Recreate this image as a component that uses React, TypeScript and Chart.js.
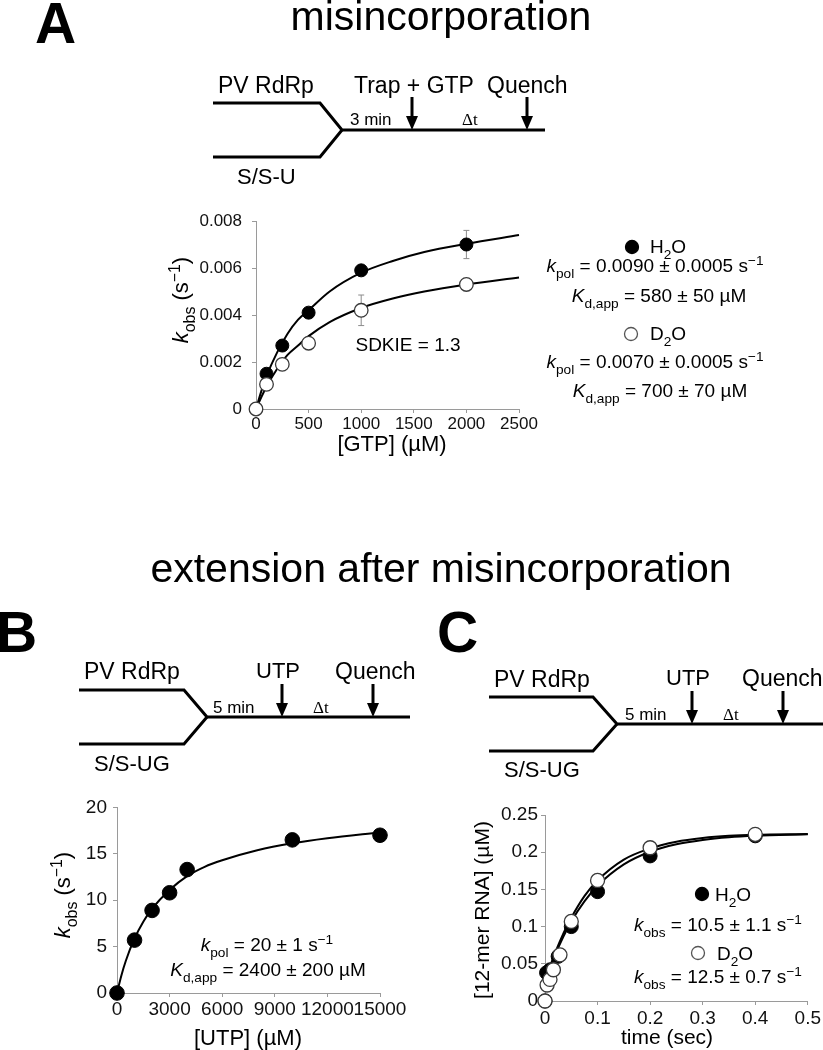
import React, { useEffect, useRef } from 'react';
import { Chart, registerables } from 'chart.js';
Chart.register(...registerables);

const FONT = '"Liberation Sans", Arial, Helvetica, sans-serif';
const SERIF = '"Liberation Serif", "Times New Roman", serif';

// ---------- Panel A: misincorporation ----------
const gtpConc = [0, 100, 250, 500, 1000, 2000];
const kobsH2O_A = [0, 0.0015, 0.0027, 0.0041, 0.0059, 0.0070];
const kobsD2O_A = [0, 0.00105, 0.0019, 0.0028, 0.0042, 0.0053];
const errH2O_A = [0, 0, 0, 0, 0, 0.0006];
const errD2O_A = [0, 0, 0, 0, 0.00065, 0];
const fitGtp = [0, 50, 100, 200, 300, 400, 500, 700, 1000, 1300, 1600, 2000, 2500];
const fitH2O_A = [0, 0.00075, 0.0014, 0.0024, 0.0032, 0.0038, 0.0042, 0.005, 0.0058, 0.0063, 0.00668, 0.00703, 0.0074];
const fitD2O_A = [0, 0.0005, 0.00095, 0.0017, 0.0023, 0.0027, 0.0031, 0.0037, 0.0043, 0.0047, 0.005, 0.0053, 0.0056];
const gtpTicks = [0, 500, 1000, 1500, 2000, 2500];
const gtpTickLabels = ['0', '500', '1000', '1500', '2000', '2500'];
const kobsATicks = [0, 0.002, 0.004, 0.006, 0.008];
const kobsATickLabels = ['0', '0.002', '0.004', '0.006', '0.008'];

// ---------- Panel B: extension, UTP dependence ----------
const utpConc = [0, 1000, 2000, 3000, 4000, 10000, 15000];
const kobsB = [0, 5.7, 8.9, 10.8, 13.3, 16.5, 17.0];
const fitUtp = [0, 250, 500, 1000, 1500, 2000, 3000, 4000, 5000, 6000, 8000, 10000, 12000, 15000];
const fitB = [0, 1.89, 3.45, 5.88, 7.69, 9.09, 11.11, 12.6, 13.6, 14.3, 15.38, 16.13, 16.67, 17.3];
const utpTicks = [0, 3000, 6000, 9000, 12000, 15000];
const utpTickLabels = ['0', '3000', '6000', '9000', '12000', '15000'];
const kobsBTicks = [0, 5, 10, 15, 20];
const kobsBTickLabels = ['0', '5', '10', '15', '20'];

// ---------- Panel C: extension time course ----------
const timeH2O = [0, 0.003, 0.01, 0.025, 0.05, 0.1, 0.2, 0.4];
const rnaH2O = [0, 0.038, 0.042, 0.06, 0.1, 0.147, 0.195, 0.222];
const timeD2O = [0, 0.004, 0.0095, 0.016, 0.0285, 0.05, 0.1, 0.2, 0.4];
const rnaD2O = [0, 0.0215, 0.029, 0.042, 0.062, 0.107, 0.162, 0.206, 0.224];
const fitTime = [0, 0.01, 0.02, 0.035, 0.05, 0.075, 0.1, 0.15, 0.2, 0.25, 0.3, 0.35, 0.4, 0.5];
const fitH2O_C = [0.025, 0.045, 0.063, 0.0865, 0.107, 0.134, 0.155, 0.1836, 0.2006, 0.2106, 0.2164, 0.22, 0.222, 0.224];
const fitD2O_C = [0.025, 0.047, 0.066, 0.091, 0.112, 0.141, 0.162, 0.19, 0.205, 0.214, 0.219, 0.222, 0.2235, 0.2245];
const timeTicks = [0, 0.1, 0.2, 0.3, 0.4, 0.5];
const timeTickLabels = ['0', '0.1', '0.2', '0.3', '0.4', '0.5'];
const rnaTicks = [0, 0.05, 0.1, 0.15, 0.2, 0.25];
const rnaTickLabels = ['0', '0.05', '0.1', '0.15', '0.2', '0.25'];

const pts = (xs: number[], ys: number[]) => xs.map((x, i) => ({ x, y: ys[i] }));

const errorBarPlugin = {
  id: 'errorBars',
  beforeDatasetsDraw(chart: any) {
    const ctx = chart.ctx;
    const xs = chart.scales.x;
    const ys = chart.scales.y;
    chart.data.datasets.forEach((ds: any) => {
      const errs: number[] | undefined = ds.errors;
      if (!errs) return;
      ctx.save();
      ctx.strokeStyle = '#8c8c8c';
      ctx.lineWidth = 1;
      ds.data.forEach((p: any, i: number) => {
        const e = errs[i];
        if (!e) return;
        const px = xs.getPixelForValue(p.x);
        const y1 = ys.getPixelForValue(p.y + e);
        const y2 = ys.getPixelForValue(p.y - e);
        ctx.beginPath();
        ctx.moveTo(px, y1); ctx.lineTo(px, y2);
        ctx.moveTo(px - 3, y1); ctx.lineTo(px + 3, y1);
        ctx.moveTo(px - 3, y2); ctx.lineTo(px + 3, y2);
        ctx.stroke();
      });
      ctx.restore();
    });
  },
};

const filled = (data: any[], r: number, extra: any = {}) => ({
  data, showLine: false, pointRadius: r, pointBackgroundColor: '#000', pointBorderColor: '#000',
  pointBorderWidth: 1, clip: false, order: 2, ...extra,
});
const open = (data: any[], r: number, extra: any = {}) => ({
  data, showLine: false, pointRadius: r, pointBackgroundColor: '#fff', pointBorderColor: '#3a3a3a',
  pointBorderWidth: 1.3, clip: false, order: 1, ...extra,
});
const curve = (data: any[]) => ({
  data, showLine: true, pointRadius: 0, borderColor: '#000', borderWidth: 2,
  cubicInterpolationMode: 'monotone', fill: false, clip: false, order: 3,
});

function axis(o: {
  min: number; max: number; ticks: number[]; labels: string[]; size: number;
  fontSize: number; padding: number; horizontal: boolean;
}) {
  return {
    type: 'linear',
    min: o.min,
    max: o.max,
    afterFit: (s: any) => { if (o.horizontal) s.height = o.size; else s.width = o.size; },
    afterBuildTicks: (s: any) => { s.ticks = o.ticks.map((v) => ({ value: v })); },
    ticks: {
      autoSkip: false, maxRotation: 0, minRotation: 0,
      callback: (_v: any, i: number) => o.labels[i],
      font: { family: FONT, size: o.fontSize }, color: '#111', padding: o.padding,
    },
    grid: { drawOnChartArea: false, drawTicks: true, tickLength: 4, color: '#9a9a9a', lineWidth: 1 },
    border: { display: true, color: '#9a9a9a', width: 1 },
  };
}

function baseOptions(padding: any, x: any, y: any) {
  return {
    responsive: false, animation: false, events: [],
    layout: { padding },
    plugins: { legend: { display: false }, tooltip: { enabled: false }, title: { display: false } },
    scales: { x, y },
  };
}

const configA = () => ({
  type: 'scatter',
  data: {
    datasets: [
      open(pts(gtpConc, kobsD2O_A), 6.8, { errors: errD2O_A }),
      filled(pts(gtpConc, kobsH2O_A), 6.5, { errors: errH2O_A }),
      curve(pts(fitGtp, fitH2O_A)),
      curve(pts(fitGtp, fitD2O_A)),
    ],
  },
  options: baseOptions(
    { top: 21, right: 31, left: 0, bottom: 0 },
    axis({ min: 0, max: 2500, ticks: gtpTicks, labels: gtpTickLabels, size: 31, fontSize: 17, padding: 1, horizontal: true }),
    axis({ min: 0, max: 0.008, ticks: kobsATicks, labels: kobsATickLabels, size: 66, fontSize: 17, padding: 10, horizontal: false }),
  ),
  plugins: [errorBarPlugin],
});

const configB = () => ({
  type: 'scatter',
  data: {
    datasets: [
      filled(pts(utpConc, kobsB), 7.3),
      curve(pts(fitUtp, fitB)),
    ],
  },
  options: baseOptions(
    { top: 17, right: 30, left: 0, bottom: 0 },
    axis({ min: 0, max: 15000, ticks: utpTicks, labels: utpTickLabels, size: 37, fontSize: 19, padding: 1, horizontal: true }),
    axis({ min: 0, max: 20, ticks: kobsBTicks, labels: kobsBTickLabels, size: 37, fontSize: 19, padding: 6, horizontal: false }),
  ),
  plugins: [],
});

const configC = () => ({
  type: 'scatter',
  data: {
    datasets: [
      open(pts(timeD2O, rnaD2O), 7),
      filled(pts(timeH2O, rnaH2O), 7),
      curve(pts(fitTime, fitH2O_C)),
      curve(pts(fitTime, fitD2O_C)),
    ],
  },
  options: baseOptions(
    { top: 20, right: 15, left: 0, bottom: 0 },
    axis({ min: 0, max: 0.5, ticks: timeTicks, labels: timeTickLabels, size: 29, fontSize: 19, padding: 2, horizontal: true }),
    axis({ min: 0, max: 0.25, ticks: rnaTicks, labels: rnaTickLabels, size: 50, fontSize: 19, padding: 3, horizontal: false }),
  ),
  plugins: [],
});

function Plot({ left, top, width, height, make }: { left: number; top: number; width: number; height: number; make: () => any }) {
  const ref = useRef<HTMLCanvasElement | null>(null);
  useEffect(() => {
    if (!ref.current) return;
    const chart = new Chart(ref.current, make());
    return () => chart.destroy();
  }, []);
  return (
    <canvas
      ref={ref}
      width={width}
      height={height}
      style={{ position: 'absolute', left, top, width, height }}
    />
  );
}

type Kind = 'n' | 'i' | 'sub' | 'sup';
type Part = [string, Kind?];

function Rich({ x, y, size, parts, anchor = 'start', rotate = false, family = FONT, weight }: {
  x: number; y: number; size: number; parts: Part[]; anchor?: string; rotate?: boolean; family?: string; weight?: string;
}) {
  let cur = 0;
  const spans = parts.map(([t, k = 'n'], i) => {
    const target = k === 'sub' ? size * 0.3 : k === 'sup' ? -size * 0.38 : 0;
    const dy = target - cur;
    cur = target;
    return (
      <tspan key={i} dy={dy} fontStyle={k === 'i' ? 'italic' : undefined}
        fontSize={k === 'sub' || k === 'sup' ? size * 0.72 : size}>{t}</tspan>
    );
  });
  return (
    <text x={x} y={y} fontSize={size} textAnchor={anchor as any} fontFamily={family} fontWeight={weight}
      style={{ whiteSpace: 'pre' }} transform={rotate ? `rotate(-90 ${x} ${y})` : undefined}>{spans}</text>
  );
}

function Scheme({ lx, rx, vx, vy, gap, endX, arrows }: { lx: number; rx: number; vx: number; vy: number; gap: number; endX: number; arrows: number[] }) {
  return (
    <g stroke="#000" strokeWidth={3} fill="none">
      <polyline points={`${lx},${vy - gap} ${rx},${vy - gap} ${vx},${vy} ${endX},${vy}`} />
      <polyline points={`${lx},${vy + gap} ${rx},${vy + gap} ${vx},${vy}`} />
      {arrows.map((ax) => (
        <g key={ax}>
          <line x1={ax} y1={vy - 33} x2={ax} y2={vy - 12} />
          <polygon points={`${ax - 6},${vy - 14} ${ax + 6},${vy - 14} ${ax},${vy}`} fill="#000" stroke="none" />
        </g>
      ))}
    </g>
  );
}

function Circle({ cx, cy, r, filledIn }: { cx: number; cy: number; r: number; filledIn: boolean }) {
  return <circle cx={cx} cy={cy} r={r} fill={filledIn ? '#000' : '#fff'} stroke={filledIn ? '#000' : '#555'} strokeWidth={1.3} />;
}

export default function App() {
  return (
    <div style={{ position: 'absolute', left: 0, top: 0, width: 823, height: 1050, background: '#fff', overflow: 'hidden' }}>
      <Plot left={190} top={200} width={360} height={240} make={configA} />
      <Plot left={80} top={790} width={330} height={240} make={configB} />
      <Plot left={495} top={795} width={328} height={235} make={configC} />
      <svg width={823} height={1050} style={{ position: 'absolute', left: 0, top: 0, pointerEvents: 'none' }}>
        {/* Panel letters and titles */}
        <Rich x={35} y={43} size={57} weight="bold" parts={[['A']]} />
        <Rich x={-4} y={652} size={57} weight="bold" parts={[['B']]} />
        <Rich x={437} y={652} size={57} weight="bold" parts={[['C']]} />
        <Rich x={441} y={30} size={41} anchor="middle" parts={[['misincorporation']]} />
        <Rich x={441} y={582} size={41} anchor="middle" parts={[['extension after misincorporation']]} />

        {/* Scheme A */}
        <Scheme lx={213} rx={320} vx={342} vy={130} gap={27} endX={545} arrows={[412, 527]} />
        <Rich x={218} y={93} size={23} parts={[['PV RdRp']]} />
        <Rich x={354} y={93} size={23} parts={[['Trap + GTP']]} />
        <Rich x={487} y={93} size={23} parts={[['Quench']]} />
        <Rich x={350} y={125} size={17} parts={[['3 min']]} />
        <Rich x={462} y={125} size={17} family={SERIF} parts={[['Δt']]} />
        <Rich x={237} y={184} size={22} parts={[['S/S-U']]} />

        {/* Scheme B */}
        <Scheme lx={79} rx={184} vx={207} vy={717} gap={27} endX={410} arrows={[282, 373]} />
        <Rich x={84} y={679} size={23} parts={[['PV RdRp']]} />
        <Rich x={256} y={678} size={22} parts={[['UTP']]} />
        <Rich x={335} y={679} size={23} parts={[['Quench']]} />
        <Rich x={213} y={713} size={17} parts={[['5 min']]} />
        <Rich x={313} y={713} size={17} family={SERIF} parts={[['Δt']]} />
        <Rich x={94} y={771} size={22} parts={[['S/S-UG']]} />

        {/* Scheme C */}
        <Scheme lx={489} rx={593} vx={617} vy={724} gap={27} endX={823} arrows={[692, 783]} />
        <Rich x={494} y={687} size={23} parts={[['PV RdRp']]} />
        <Rich x={666} y={685} size={22} parts={[['UTP']]} />
        <Rich x={742} y={686} size={23} parts={[['Quench']]} />
        <Rich x={625} y={720} size={17} parts={[['5 min']]} />
        <Rich x={723} y={720} size={17} family={SERIF} parts={[['Δt']]} />
        <Rich x={504} y={777} size={22} parts={[['S/S-UG']]} />

        {/* Axis titles */}
        <Rich x={392} y={451} size={22} anchor="middle" parts={[['[GTP] (µM)']]} />
        <Rich x={188} y={300} size={22} anchor="middle" rotate parts={[['k', 'i'], ['obs', 'sub'], [' (s'], ['−1', 'sup'], [')']]} />
        <Rich x={248} y={1045} size={22} anchor="middle" parts={[['[UTP] (µM)']]} />
        <Rich x={70} y={895} size={22} anchor="middle" rotate parts={[['k', 'i'], ['obs', 'sub'], [' (s'], ['−1', 'sup'], [')']]} />
        <Rich x={667} y={1044} size={21} anchor="middle" parts={[['time (sec)']]} />
        <Rich x={489} y={910} size={21} anchor="middle" rotate parts={[['[12-mer RNA] (µM)']]} />

        {/* Panel A annotations */}
        <Rich x={408} y={351} size={19} anchor="middle" parts={[['SDKIE = 1.3']]} />
        <Circle cx={632} cy={247} r={6.5} filledIn />
        <Rich x={650} y={253} size={19} parts={[['H'], ['2', 'sub'], ['O']]} />
        <Rich x={655} y={272} size={19} anchor="middle" parts={[['k', 'i'], ['pol', 'sub'], [' = 0.0090 ± 0.0005 s'], ['−1', 'sup']]} />
        <Rich x={659} y={302} size={19} anchor="middle" parts={[['K', 'i'], ['d,app', 'sub'], [' = 580 ± 50 µM']]} />
        <Circle cx={631} cy={334} r={6.5} filledIn={false} />
        <Rich x={650} y={340} size={19} parts={[['D'], ['2', 'sub'], ['O']]} />
        <Rich x={655} y={368} size={19} anchor="middle" parts={[['k', 'i'], ['pol', 'sub'], [' = 0.0070 ± 0.0005 s'], ['−1', 'sup']]} />
        <Rich x={660} y={397} size={19} anchor="middle" parts={[['K', 'i'], ['d,app', 'sub'], [' = 700 ± 70 µM']]} />

        {/* Panel B annotations */}
        <Rich x={267} y={951} size={19} anchor="middle" parts={[['k', 'i'], ['pol', 'sub'], [' = 20 ± 1 s'], ['−1', 'sup']]} />
        <Rich x={268} y={976} size={19} anchor="middle" parts={[['K', 'i'], ['d,app', 'sub'], [' = 2400 ± 200 µM']]} />

        {/* Panel C legend */}
        <Circle cx={702} cy={894} r={6.5} filledIn />
        <Rich x={715} y={901} size={19} parts={[['H'], ['2', 'sub'], ['O']]} />
        <Rich x={718} y={931} size={19} anchor="middle" parts={[['k', 'i'], ['obs', 'sub'], [' = 10.5 ± 1.1 s'], ['−1', 'sup']]} />
        <Circle cx={698} cy={953} r={6.5} filledIn={false} />
        <Rich x={717} y={960} size={19} parts={[['D'], ['2', 'sub'], ['O']]} />
        <Rich x={718} y={983} size={19} anchor="middle" parts={[['k', 'i'], ['obs', 'sub'], [' = 12.5 ± 0.7 s'], ['−1', 'sup']]} />
      </svg>
    </div>
  );
}
